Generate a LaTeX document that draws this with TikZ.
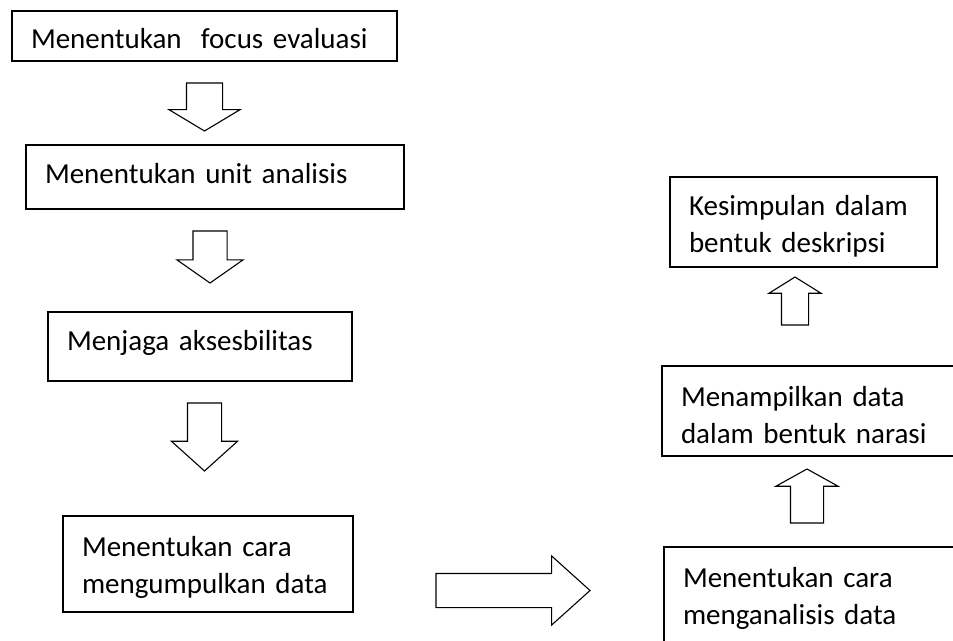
\documentclass[tikz,border=0pt]{standalone}
\usepackage{fontspec}
\setmainfont{Carlito}
\usetikzlibrary{shapes.arrows}
\tikzset{
    flow-box/.style = {draw, rectangle, line width=1.3pt, inner xsep=19pt, inner ysep=0pt, outer sep=0pt, anchor=north west, align=left, font=\fontsize{29}{37}\selectfont},
    block-arrow/.style = {draw, single arrow, line width=1.1pt, inner xsep=0pt, outer sep=0pt},
}

\begin{document}
\begin{tikzpicture}[x=1pt, y=-1pt]
\useasboundingbox (0,0) rectangle (953,640);
\clip (0,0) rectangle (953,640);
% left column
\node [flow-box, text width=347pt, text height=37pt, text depth=13pt] (focus) at (12,11) {Menentukan~ focus evaluasi};
\node [flow-box, text width=340pt, text height=38pt, text depth=26pt] (unit) at (26,145) {Menentukan unit analisis};
\node [flow-box, text width=266pt, text height=38pt, text depth=31pt] (akses) at (48,312) {Menjaga aksesbilitas};
\node [flow-box, text width=252pt, text height=40pt, text depth=56pt] (kumpul) at (63,516) {Menentukan cara\\mengumpulkan data};
% right column
\node [flow-box, text width=229pt, text height=38pt, text depth=52pt] (kesimpulan) at (670,177) {Kesimpulan dalam\\bentuk deskripsi};
\node [flow-box, text width=320pt, text height=40pt, text depth=50pt] (narasi) at (662,366) {Menampilkan data\\dalam bentuk narasi};
\node [flow-box, text width=320pt, text height=40pt, text depth=120pt] (analisis) at (664,547) {Menentukan cara\\menganalisis data};
% block arrows
\node [block-arrow, rotate=-90, anchor=tail, minimum height=48pt, inner ysep=17.5pt, single arrow head extend=17.5pt, single arrow tip angle=118] (arrow-1) at ([yshift=-22pt]focus.south) {};
\node [block-arrow, rotate=-90, anchor=tail, minimum height=52pt, inner ysep=16.5pt, single arrow head extend=16pt, single arrow tip angle=110] (arrow-2) at ([xshift=-5pt, yshift=-22pt]unit.south) {};
\node [block-arrow, rotate=-90, anchor=tail, minimum height=68pt, inner ysep=16.5pt, single arrow head extend=16pt, single arrow tip angle=96] (arrow-3) at ([xshift=4.5pt, yshift=-22pt]akses.south) {};
\node [block-arrow, anchor=tail, minimum height=154pt, inner ysep=16.5pt, single arrow head extend=17.5pt, single arrow tip angle=84] (arrow-4) at ([xshift=83pt, yshift=-26.5pt]kumpul.east) {};
\node [block-arrow, rotate=90, anchor=tip, minimum height=54pt, inner ysep=16pt, single arrow head extend=14.5pt, single arrow tip angle=122] (arrow-5) at ([xshift=145pt, yshift=-13pt]narasi.south west) {};
\node [block-arrow, rotate=90, anchor=tip, minimum height=48pt, inner ysep=13pt, single arrow head extend=12.5pt, single arrow tip angle=116] (arrow-6) at ([xshift=-8.5pt, yshift=-10pt]kesimpulan.south) {};
\end{tikzpicture}
\end{document}
